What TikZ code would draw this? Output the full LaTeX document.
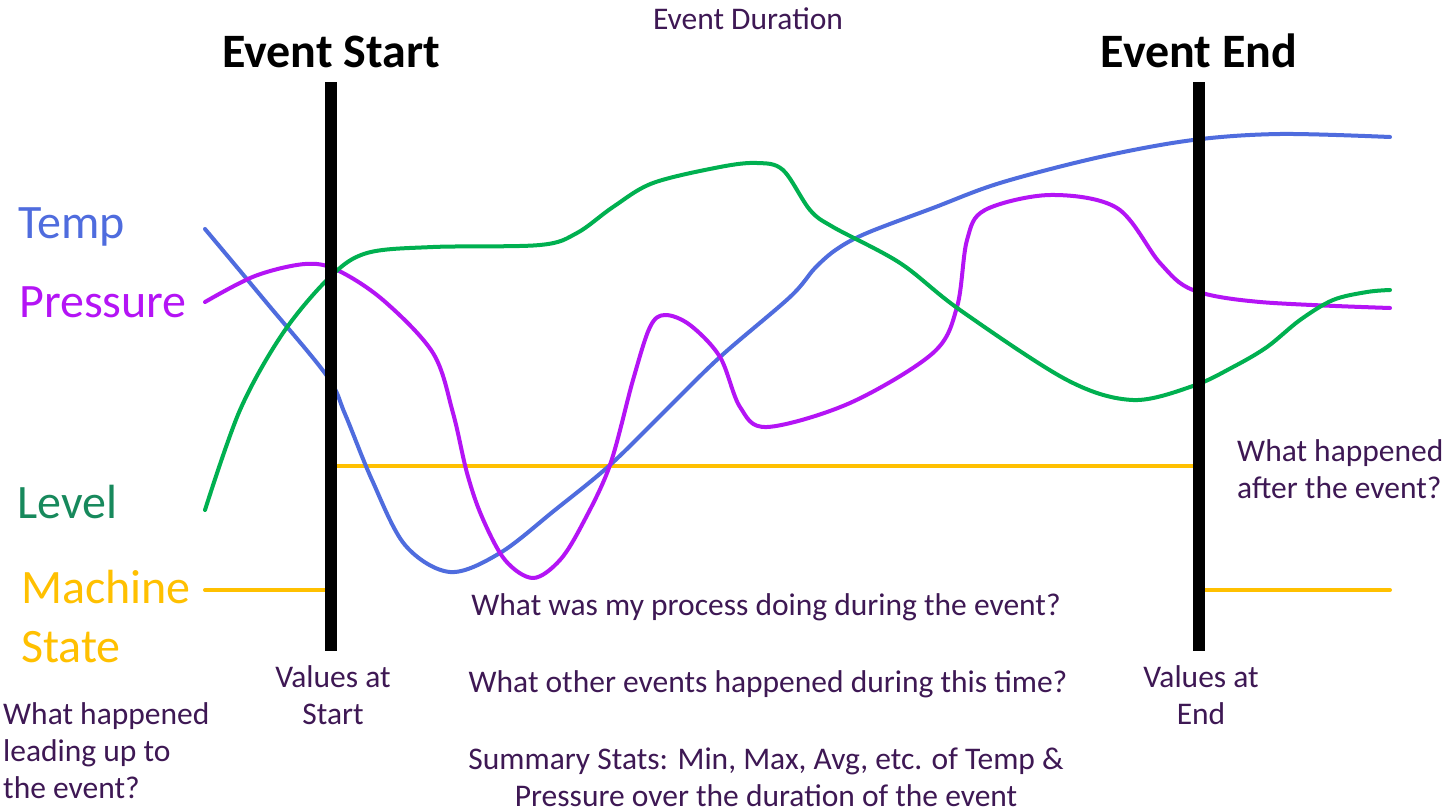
\documentclass[tikz,border=0pt]{standalone}
\usepackage{fontspec}
\setmainfont{Carlito}
\definecolor{tempblue}{HTML}{4F6CDE}
\definecolor{presspurple}{HTML}{B414F5}
\definecolor{levelgreen}{HTML}{00B050}
\definecolor{leveltext}{HTML}{17895C}
\definecolor{stategold}{HTML}{FFC000}
\definecolor{notepurple}{HTML}{3E1854}
\begin{document}
\begin{tikzpicture}[x=1pt,y=-1pt,line join=round,line cap=round,
  lbl/.style={font=\fontsize{48}{59}\selectfont,inner sep=0,anchor=base west,align=left},
  hdr/.style={font=\fontsize{48}{59}\selectfont\bfseries,inner sep=0,anchor=base},
  note/.style={font=\fontsize{31.5}{37}\selectfont,text=notepurple,inner sep=0,anchor=base,align=center},
  curve/.style={line width=4pt},
  bar/.style={line width=12pt,line cap=butt}]
\useasboundingbox[fill=white] (0,0) rectangle (1448,811);
\node[note] (duration) at (748,29) {Event Duration};
\node[lbl,text=tempblue] (temp) at (18,238) {Temp};
\node[lbl,text=presspurple] (pressure) at (19,317) {Pressure};
\node[lbl,text=leveltext] (level) at (17,518) {Level};
\node[lbl,text=stategold] (state) at (21,662) {Machine\\State};
\draw[curve,stategold] (205,590) -| (331,466) -- (1199,466) |- (1390,590);
\draw[curve,tempblue] plot[smooth,tension=0.55] coordinates {(205,229) (266,302) (327,376) (345,414) (372,480) (405,545) (450,572) (500,553) (555,510) (610,465) (665,411) (720,357) (790,297) (815,268) (837,249) (867,233) (933,208) (1000,183) (1100,157) (1193,140) (1280,134) (1390,137)};
\draw[curve,presspurple] plot[smooth,tension=0.55] coordinates {(205,302) (255,276) (305,264) (337,270) (383,300) (433,353) (453,413) (467,473) (482,517) (505,560) (533,578) (560,560) (583,523) (610,465) (633,380) (650,327) (665,315) (690,325) (720,357) (740,407) (767,427) (850,403) (933,353) (957,307) (967,240) (985,210) (1050,195) (1117,208) (1160,263) (1193,290) (1260,302) (1390,308)};
\draw[curve,levelgreen] plot[smooth,tension=0.55] coordinates {(205,510) (240,410) (283,333) (330,277) (367,253) (433,247) (540,245) (577,233) (613,207) (653,183) (720,167) (757,163) (783,170) (810,210) (833,227) (900,263) (960,310) (1067,380) (1133,400) (1193,386) (1233,367) (1267,347) (1300,320) (1333,300) (1367,292) (1390,290)};
\foreach \x/\nm/\txt in {331/start/Start,1199/end/End}{
  \draw[bar] (\x,82) coordinate (\nm top) -- (\x,651) coordinate (\nm bot);
  \node[hdr] (\nm head) at (\x,67) {Event \txt};
  \node[note] (\nm vals) at (\x+2,724) {Values at\\\txt};
}
\node[note,anchor=base west,align=left] (before) at (3,798) {What happened\\leading up to\\the event?};
\node[note,anchor=base west,align=left] (after) at (1237,498) {What happened\\after the event?};
\node[note] (process) at (766,615) {What was my process doing during the event?};
\node[note] (others) at (768,692) {What other events happened during this time?};
\node[note] (stats) at (766,806) {Summary Stats: Min, Max, Avg, etc. of Temp \&\\Pressure over the duration of the event};
\end{tikzpicture}
\end{document}
